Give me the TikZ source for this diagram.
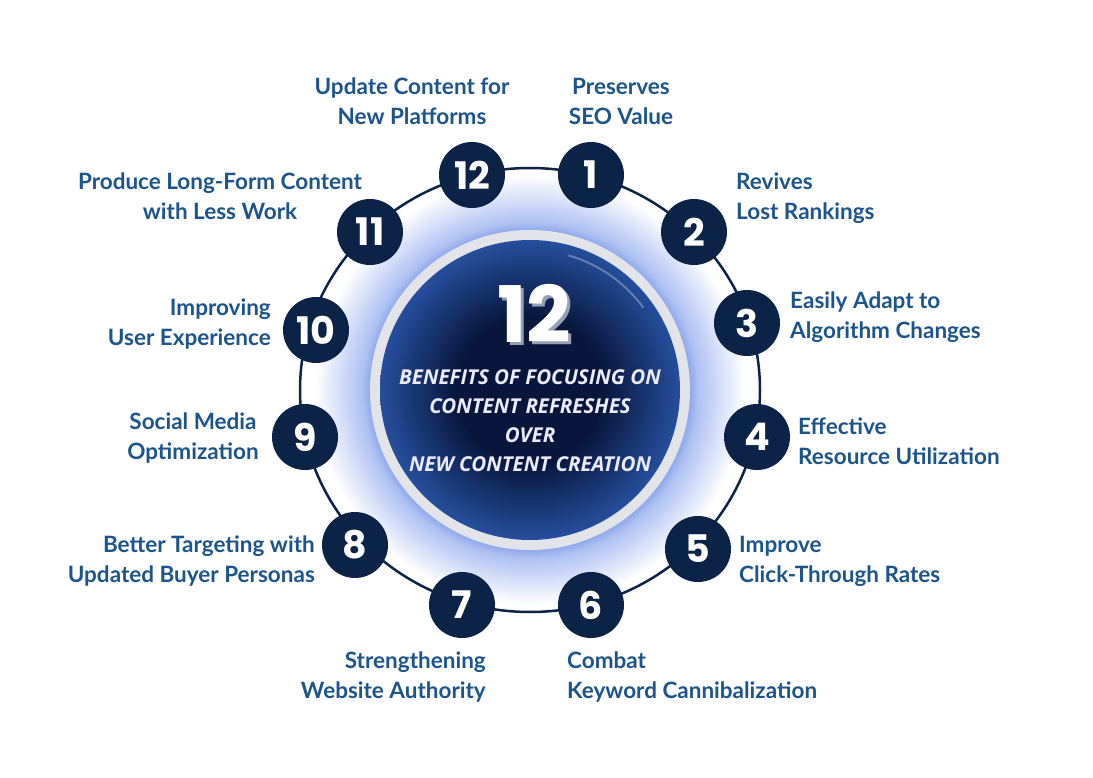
\documentclass[tikz,border=0pt]{standalone}
\usepackage{fontspec}
\setmainfont{Lato}
\newfontfamily\numfont{Poppins}
\newfontfamily\headfont{Open Sans}
\usetikzlibrary{positioning}

\definecolor{navy}{RGB}{12,35,72}
\definecolor{labelblue}{RGB}{28,84,140}
\definecolor{glowblue}{RGB}{90,130,228}
\definecolor{discdark}{RGB}{7,22,58}
\definecolor{discedge}{RGB}{38,78,158}
\definecolor{rimgrey}{RGB}{226,228,234}
\definecolor{shadowgrey}{RGB}{150,160,180}
\pgfdeclareradialshading{glow}{\pgfpoint{0bp}{0bp}}{color(0bp)=(glowblue); color(17bp)=(glowblue); color(19.5bp)=(glowblue!50!white); color(25bp)=(white); color(50bp)=(white)}
\pgfdeclareradialshading{disc}{\pgfpoint{0bp}{0bp}}{color(0bp)=(discdark); color(12bp)=(discdark); color(25bp)=(discedge); color(50bp)=(discedge)}

\tikzset{
  num/.style={circle, fill=navy, minimum size=66pt, inner sep=0pt, text=white, font=\numfont\bfseries\fontsize{38}{38}\selectfont},
  lbl/.style={text=labelblue, font=\bfseries\fontsize{22.5}{30}\selectfont, inner sep=0pt},
  ring/.style={draw=navy, line width=2.5pt}
}

\begin{document}
\begin{tikzpicture}[x=1pt,y=-1pt]
    \useasboundingbox[fill=white] (0,0) rectangle (1093,778);
    % glow and ring
    \shade[shading=glow] (530,390) circle (215);
    \draw[ring] (530,390) ellipse [x radius=230, y radius=222];
    % centre disc
    \fill[rimgrey] (530,390) circle (160);
    \shade[shading=disc] (530,390) circle (150);
    \draw[white, opacity=0.3, line width=2pt] (530,390) ++(-36:140) arc[start angle=-36, end angle=-74, radius=140];
    \node[text=shadowgrey, font=\numfont\bfseries\fontsize{78}{78}\selectfont] (bigs) at (537,316) {12};
    \node[text=white, font=\numfont\bfseries\fontsize{78}{78}\selectfont] (big) at (534,313) {12};
    \node[text=white!92!blue, align=center, font=\headfont\bfseries\itshape\fontsize{20.5}{29}\selectfont] (title) at (530,421) {BENEFITS OF FOCUSING ON\\CONTENT REFRESHES\\OVER\\NEW CONTENT CREATION};
    % numbered circles
    \node[num] (n1) at (591,175) {1};
    \node[num] (n2) at (694,232) {2};
    \node[num] (n3) at (747,323) {3};
    \node[num] (n4) at (757,437) {4};
    \node[num] (n5) at (698,549) {5};
    \node[num] (n6) at (591,605) {6};
    \node[num] (n7) at (462,605) {7};
    \node[num] (n8) at (355,545) {8};
    \node[num] (n9) at (305,437) {9};
    \node[num] (n10) at (316,330) {10};
    \node[num] (n11) at (370,232) {11};
    \node[num] (n12) at (472,175) {12};
    % labels
    \node[lbl, align=center] (l1) at (621,101) {Preserves\\SEO Value};
    \node[lbl, align=left, anchor=west] (l2) at (736,198) {Revives\\Lost Rankings};
    \node[lbl, align=left, anchor=west] (l3) at (790,317) {Easily Adapt to\\Algorithm Changes};
    \node[lbl, align=left, anchor=west] (l4) at (798,441) {Effective\\Resource Utilization};
    \node[lbl, align=left, anchor=west] (l5) at (739,561) {Improve\\Click-Through Rates};
    \node[lbl, align=left, anchor=west] (l6) at (567,677) {Combat\\Keyword Cannibalization};
    \node[lbl, align=right, anchor=east] (l7) at (486,677) {Strengthening\\Website Authority};
    \node[lbl, align=right, anchor=east] (l8) at (315,561) {Better Targeting with\\Updated Buyer Personas};
    \node[lbl, align=center] (l9) at (193,438) {Social Media\\Optimization};
    \node[lbl, align=right, anchor=east] (l10) at (271,324) {Improving\\User Experience};
    \node[lbl, align=center] (l11) at (220,196) {Produce Long-Form Content\\with Less Work};
    \node[lbl, align=center] (l12) at (412,101) {Update Content for\\New Platforms};
\end{tikzpicture}
\end{document}
